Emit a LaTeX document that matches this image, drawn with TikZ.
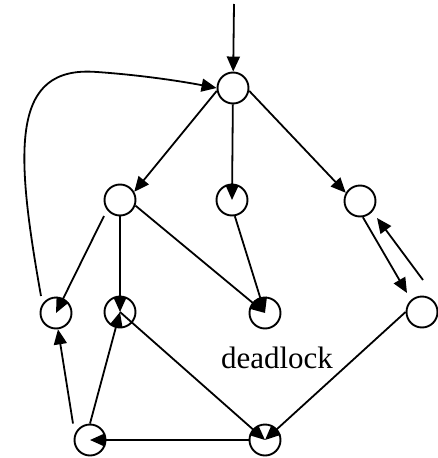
\documentclass[tikz,border=0pt]{standalone}
\usepackage{fontspec}
\setmainfont{Liberation Serif}
\usetikzlibrary{arrows.meta}
\begin{document}
\begin{tikzpicture}[x=1pt,y=-1pt,
  circ/.style={circle, draw, fill=white, line width=1.9pt, minimum size=31pt, inner sep=0pt},
  arr/.style={line width=1.8pt, -{Triangle[length=15pt,width=13pt]}},
  lbl/.style={font=\fontsize{31}{31}\selectfont, inner sep=0pt, anchor=base}]
\useasboundingbox (0,0) rectangle (438,458);
% nodes
\node[circ] (A) at (233,88) {};
\node[circ] (B) at (120,200) {};
\node[circ] (C) at (232,200) {};
\node[circ] (D) at (360,201) {};
\node[circ] (E) at (56,313) {};
\node[circ] (F) at (120,312) {};
\node[circ] (G) at (265,313) {};
\node[circ] (H) at (422,312) {};
\node[circ] (I) at (90,440) {};
\node[circ] (J) at (265,440) {};
\node[lbl] (dl) at (277,368) {deadlock};
\coordinate (start) at (234,4);
% edges
\draw[arr] (start) -- (A);
\draw[arr] ([shift={(-15,-17)}]E.center) .. controls (15,150) and (10,65) .. (97,72)
  .. controls (140,75) and (180,81) .. (A.west);
\draw[arr] (A.190) -- (B.30);
\draw[arr] (A) -- (C.center);
\draw[arr] (A.-10) -- (D.150);
\draw[arr] ([shift={(-16,16)}]B.center) -- (E.center);
\draw[arr] (B) -- (F.center);
\draw[arr] (B.-20) -- (G.center);
\draw[arr] (C.-80) -- (G.center);
\draw[arr] (D.-80) -- ([shift={(-15,-19)}]H.center);
\draw[arr] ([shift={(1,-32)}]H.center) -- ([shift={(17,17)}]D.center);
\draw[arr] (H.180) -- (J.center);
\draw[arr] (F.center) -- (J.center);
\draw[arr] (J.180) -- (I.center);
\draw[arr] ([xshift=-17pt]I.north) -- (E.-83);
\draw[arr] (I.north) -- (F.center);
\end{tikzpicture}
\end{document}
